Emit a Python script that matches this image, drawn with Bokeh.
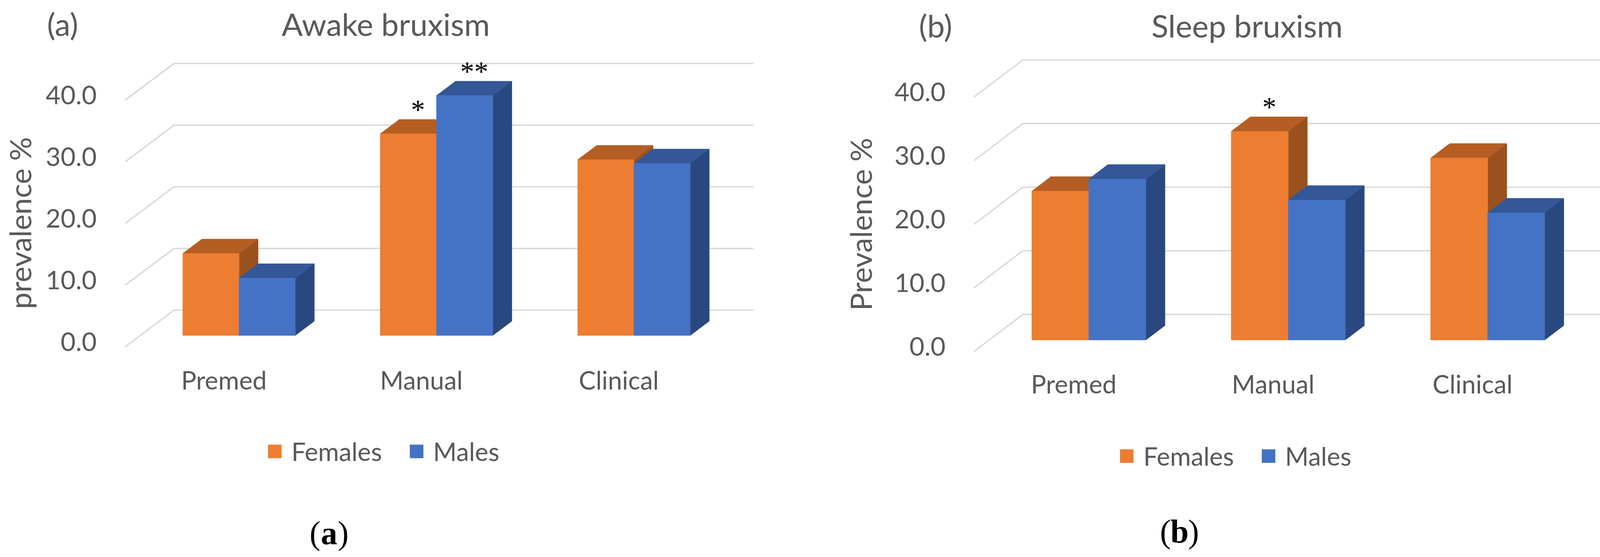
import math
from bokeh.plotting import figure
from bokeh.models import Range1d, Legend, LegendItem
from bokeh.layouts import row
from bokeh.embed import file_html
from bokeh.resources import INLINE
from bokeh.core.properties import value

# ---------------- data ----------------
categories = ["Premed", "Manual", "Clinical"]
series_names = ["Females", "Males"]
awake_females = [13.3, 32.7, 28.5]
awake_males = [9.3, 38.9, 27.9]
sleep_females = [23.4, 32.8, 28.6]
sleep_males = [25.3, 22.0, 20.0]
y_ticks = [0, 10, 20, 30, 40]
awake_marks = [("Manual", "Females", "*"), ("Manual", "Males", "**")]
sleep_marks = [("Manual", "Females", "*")]
awake_title = "Awake bruxism"
sleep_title = "Sleep bruxism"
awake_ylabel = "prevalence %"
sleep_ylabel = "Prevalence %"

# ---------------- style ----------------
FONT = "Lato"
SERIF = "Liberation Serif"
GRAY = "#595959"
GRID = "#D9D9D9"
FRONT = {"Females": "#ED7D31", "Males": "#4472C4"}
TOP = {"Females": "#B55E23", "Males": "#345797"}
SIDE = {"Females": "#9A511E", "Males": "#2A4880"}
FIG_H = 1411
D_FRONT, D_BACK = 0.31, 0.70
LEG_H = 78
SHIFT_ALPHA = 25   # rendering correction for alphabetic-baseline texts (px)
SHIFT_MID = 13     # rendering correction for middle-baseline texts (px)

PANEL_A = dict(width=2064, frame_left=320, cat_px=505.5, zero_px=888, unit_px=15.8,
               depth_dx=125, depth_dy=94, wall_right=1929, bar_px=144, cat_label_py=985,
               tick_right=247, ylabel_cx=50, ylabel_cy=571,
               title_cx=987, title_base=85, tag="(a)", tag_left=120,
               legend_left=682, legend_cy=1166, cap_letter="a", cap_cx=842, cap_base=1387)
PANEL_B = dict(width=2064, frame_left=429, cat_px=510.5, zero_px=900, unit_px=16.3,
               depth_dx=125, depth_dy=95, wall_right=2051, bar_px=146, cat_label_py=995,
               tick_right=356, ylabel_cx=138, ylabel_cy=574,
               title_cx=1128, title_base=89, tag="(b)", tag_left=288,
               legend_left=799, legend_cy=1178, cap_letter="b", cap_cx=955, cap_base=1383)


def make_panel(cfg, title, ylabel, females, males, marks):
    FL, S, Z, U = cfg["frame_left"], cfg["cat_px"], cfg["zero_px"], cfg["unit_px"]
    W = cfg["width"]

    def X(px):
        return (px - FL) / S

    def Y(py):
        return (Z - py) / U

    p = figure(width=W, height=FIG_H, output_backend="svg", toolbar_location=None,
               x_range=Range1d(X(0), X(W)), y_range=Range1d(Y(FIG_H), Y(0)),
               x_axis_location=None, y_axis_location=None,
               min_border_left=0, min_border_right=0, min_border_top=0, min_border_bottom=0)
    p.outline_line_color = None
    p.grid.visible = False
    p.background_fill_color = "white"
    p.border_fill_color = "white"

    DX = cfg["depth_dx"] / S
    DY = cfg["depth_dy"] / U

    # wall gridlines (side-wall diagonal + back-wall horizontal)
    xr = X(cfg["wall_right"])
    p.multi_line(xs=[[0, DX, xr] for _ in y_ticks],
                 ys=[[v, v + DY, v + DY] for v in y_ticks],
                 line_color=GRID, line_width=3.5)

    # value-axis tick labels (front plane)
    p.text(x=[X(cfg["tick_right"])] * len(y_ticks), y=[v + SHIFT_MID / U for v in y_ticks],
           text=[f"{v:.1f}" for v in y_ticks], text_align="right", text_baseline="middle",
           text_font=value(FONT), text_font_size="66px", text_color=GRAY)

    # value-axis title
    p.text(x=[X(cfg["ylabel_cx"])], y=[Y(cfg["ylabel_cy"])], text=[ylabel], angle=math.pi / 2,
           text_align="center", text_baseline="middle",
           text_font=value(FONT), text_font_size="76px", text_color=GRAY)

    # 3D bars
    w = cfg["bar_px"] / S
    vals = {"Females": females, "Males": males}
    base = D_FRONT * DY
    ddx = (D_BACK - D_FRONT) * DX
    ddy = (D_BACK - D_FRONT) * DY
    fronts = {}
    for k, name in enumerate(series_names):
        lefts = [i + 0.5 - w + k * w + D_FRONT * DX for i in range(len(categories))]
        rights = [l + w for l in lefts]
        tops = list(vals[name])
        p.patches(xs=[[r, r + ddx, r + ddx, r] for r in rights],
                  ys=[[base, base + ddy, t + base + ddy, t + base] for t in tops],
                  fill_color=SIDE[name], line_color=SIDE[name], line_width=1)
        p.patches(xs=[[l, r, r + ddx, l + ddx] for l, r in zip(lefts, rights)],
                  ys=[[t + base, t + base, t + base + ddy, t + base + ddy] for t in tops],
                  fill_color=TOP[name], line_color=TOP[name], line_width=1)
        fronts[name] = p.quad(left=lefts, right=rights, bottom=[base] * len(tops),
                              top=[t + base for t in tops],
                              fill_color=FRONT[name], line_color=FRONT[name], line_width=1)

    # significance marks
    for cat, ser, txt in marks:
        i = categories.index(cat)
        k = series_names.index(ser)
        v = vals[ser][i]
        xc = i + 0.5 - w + k * w + D_FRONT * DX + w / 2 + ddx / 2
        yc = v + D_BACK * DY + 25 / U
        p.text(x=[xc], y=[yc], text=[txt], text_align="center", text_baseline="middle",
               text_font=value(SERIF), text_font_size="72px", text_color="black")

    # category labels
    p.text(x=[i + 0.5 for i in range(len(categories))],
           y=[Y(cfg["cat_label_py"] - SHIFT_MID)] * len(categories), text=categories,
           text_align="center", text_baseline="middle",
           text_font=value(FONT), text_font_size="65px", text_color=GRAY)

    # panel tag and chart title
    ty = Y(cfg["title_base"] - SHIFT_ALPHA)
    p.text(x=[X(cfg["tag_left"])], y=[ty], text=[cfg["tag"]],
           text_align="left", text_baseline="alphabetic",
           text_font=value(FONT), text_font_size="80px", text_color=GRAY)
    p.text(x=[X(cfg["title_cx"])], y=[ty], text=[title],
           text_align="center", text_baseline="alphabetic",
           text_font=value(FONT), text_font_size="80px", text_color=GRAY)

    # legend
    legend = Legend(items=[LegendItem(label=n, renderers=[fronts[n]]) for n in series_names],
                    location=(cfg["legend_left"], FIG_H - cfg["legend_cy"] - LEG_H / 2 + 10),
                    orientation="horizontal", glyph_width=42, glyph_height=42,
                    label_standoff=22, spacing=67, padding=0, margin=0,
                    border_line_color=None, background_fill_alpha=0,
                    label_text_font=FONT, label_text_font_size="65px",
                    label_text_color=GRAY)
    p.add_layout(legend)

    # caption below chart: (letter)
    cx = cfg["cap_cx"]
    half = 22
    cy = Y(cfg["cap_base"] - 22)
    p.text(x=[X(cx - half)], y=[cy], text=["("], text_align="right", text_baseline="alphabetic",
           text_font=value(SERIF), text_font_size="84px", text_color="black")
    p.text(x=[X(cx)], y=[cy], text=[cfg["cap_letter"]], text_align="center",
           text_baseline="alphabetic", text_font=value(SERIF), text_font_size="84px",
           text_font_style="bold", text_color="black")
    p.text(x=[X(cx + half)], y=[cy], text=[")"], text_align="left", text_baseline="alphabetic",
           text_font=value(SERIF), text_font_size="84px", text_color="black")
    return p


pa = make_panel(PANEL_A, awake_title, awake_ylabel, awake_females, awake_males, awake_marks)
pb = make_panel(PANEL_B, sleep_title, sleep_ylabel, sleep_females, sleep_males, sleep_marks)
layout = row(pa, pb)

open("out.html", "w").write(file_html(layout, INLINE, "Bruxism prevalence"))
